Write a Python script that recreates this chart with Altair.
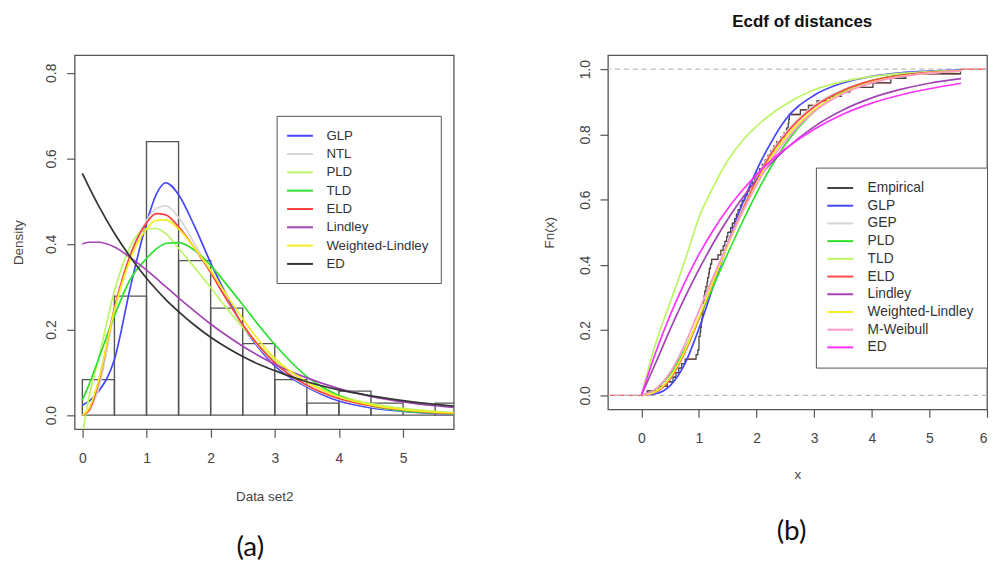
import altair as alt
import pandas as pd

FONT = "Liberation Sans"
TXT = "#444444"
LINE = "#555555"

# ---------------- Panel (a): histogram + fitted densities ----------------
BIN_LEFT = [0.0, 0.5, 1.0, 1.5, 2.0, 2.5, 3.0, 3.5, 4.0, 4.5, 5.0, 5.5]
BIN_RIGHT = [0.5, 1.0, 1.5, 2.0, 2.5, 3.0, 3.5, 4.0, 4.5, 5.0, 5.5, 6.0]
HIST_DENSITY = [0.083, 0.278, 0.639, 0.361, 0.250, 0.167, 0.083, 0.028, 0.056, 0.028, 0.0, 0.028]

X_A = [0, 0.1, 0.25, 0.5, 0.75, 1.0, 1.15, 1.3, 1.5, 1.75, 2.0, 2.25, 2.5, 2.75, 3.0, 3.5, 4.0, 4.5, 5.0, 5.5, 5.8]
A_GLP = [0.023, 0.032, 0.055, 0.13, 0.30, 0.449, 0.515, 0.543, 0.515, 0.441, 0.356, 0.28, 0.209, 0.157, 0.115, 0.066, 0.033, 0.017, 0.009, 0.004, 0.003]
A_NTL = [0.0, 0.01, 0.06, 0.24, 0.375, 0.455, 0.483, 0.489, 0.462, 0.40, 0.335, 0.27, 0.21, 0.16, 0.12, 0.068, 0.037, 0.02, 0.011, 0.006, 0.004]
A_PLD = [-0.045, 0.04, 0.13, 0.29, 0.395, 0.435, 0.436, 0.424, 0.39, 0.345, 0.298, 0.25, 0.205, 0.165, 0.128, 0.078, 0.046, 0.027, 0.016, 0.009, 0.006]
A_TLD = [0.035, 0.07, 0.13, 0.232, 0.318, 0.366, 0.388, 0.401, 0.403, 0.385, 0.35, 0.305, 0.258, 0.21, 0.165, 0.09, 0.046, 0.022, 0.01, 0.005, 0.003]
A_ELD = [0.0, 0.01, 0.075, 0.25, 0.375, 0.449, 0.471, 0.468, 0.44, 0.39, 0.333, 0.27, 0.212, 0.162, 0.122, 0.07, 0.039, 0.022, 0.012, 0.006, 0.004]
A_LINDLEY = [0.400, 0.404, 0.404, 0.393, 0.368, 0.339, 0.32, 0.30, 0.274, 0.243, 0.213, 0.186, 0.161, 0.139, 0.119, 0.087, 0.062, 0.044, 0.031, 0.022, 0.018]
A_WL = [0.0, 0.015, 0.08, 0.245, 0.365, 0.435, 0.455, 0.456, 0.435, 0.39, 0.338, 0.28, 0.225, 0.175, 0.133, 0.077, 0.043, 0.024, 0.013, 0.007, 0.005]
A_ED = [0.565, 0.534, 0.49, 0.425, 0.369, 0.32, 0.294, 0.27, 0.242, 0.21, 0.182, 0.158, 0.137, 0.119, 0.104, 0.078, 0.059, 0.045, 0.034, 0.025, 0.021]

MODELS_A = ["GLP", "NTL", "PLD", "\u00a0TLD", "ELD", "Lindley", "Weighted-Lindley", "ED"]
COLORS_A = ["#4646ff", "#d6d6d6", "#bdf565", "#2ee02e", "#ff4040", "#a244b4", "#f2ee22", "#333333"]
SERIES_A = [A_GLP, A_NTL, A_PLD, A_TLD, A_ELD, A_LINDLEY, A_WL, A_ED]

# ---------------- Panel (b): empirical cdf + fitted cdfs ----------------
SAMPLE = [0.10, 0.30, 0.45,
          0.55, 0.60, 0.65, 0.70, 0.76, 0.95, 0.98, 1.00, 1.00, 1.00,
          1.02, 1.03, 1.04, 1.05, 1.06, 1.07, 1.08, 1.08, 1.09, 1.10, 1.12, 1.14,
          1.15, 1.17, 1.18, 1.20, 1.22, 1.33, 1.38, 1.42, 1.45, 1.48, 1.50,
          1.55, 1.58, 1.62, 1.65, 1.68, 1.72, 1.75, 1.80, 1.84, 1.88, 1.93, 1.97, 2.00,
          2.05, 2.10, 2.15, 2.20, 2.25, 2.30, 2.35, 2.42, 2.48,
          2.52, 2.55, 2.56, 2.57, 2.76, 2.90,
          3.05, 3.27, 3.47, 3.62, 4.02, 4.33, 4.59, 5.54]

X_B = [0, 0.25, 0.5, 0.75, 1.0, 1.25, 1.5, 1.75, 2.0, 2.25, 2.5, 3.0, 3.5, 4.0, 4.5, 5.0, 5.55]
B_GLP = [0, 0.005, 0.03, 0.095, 0.205, 0.335, 0.465, 0.585, 0.69, 0.775, 0.845, 0.92, 0.958, 0.978, 0.989, 0.994, 0.997]
B_GEP = [0, 0.01, 0.05, 0.13, 0.235, 0.35, 0.465, 0.57, 0.665, 0.745, 0.805, 0.89, 0.937, 0.965, 0.98, 0.989, 0.994]
B_PLD = [0, 0.02, 0.065, 0.14, 0.235, 0.335, 0.435, 0.53, 0.62, 0.70, 0.77, 0.87, 0.93, 0.965, 0.983, 0.992, 0.996]
B_TLD = [0, 0.16, 0.285, 0.41, 0.545, 0.64, 0.72, 0.78, 0.825, 0.862, 0.892, 0.937, 0.962, 0.977, 0.987, 0.993, 0.996]
B_ELD = [0, 0.01, 0.05, 0.13, 0.235, 0.35, 0.465, 0.565, 0.66, 0.74, 0.80, 0.885, 0.935, 0.965, 0.981, 0.99, 0.995]
B_LINDLEY = [0, 0.10, 0.202, 0.298, 0.386, 0.467, 0.54, 0.604, 0.661, 0.711, 0.754, 0.824, 0.875, 0.912, 0.938, 0.957, 0.971]
B_WL = [0, 0.012, 0.055, 0.135, 0.24, 0.35, 0.46, 0.56, 0.65, 0.73, 0.79, 0.875, 0.928, 0.96, 0.978, 0.988, 0.994]
B_MW = [0, 0.02, 0.07, 0.155, 0.26, 0.365, 0.465, 0.56, 0.645, 0.72, 0.78, 0.87, 0.925, 0.958, 0.977, 0.988, 0.994]
B_ED = [0, 0.132, 0.246, 0.345, 0.432, 0.507, 0.572, 0.628, 0.677, 0.72, 0.756, 0.816, 0.862, 0.896, 0.921, 0.94, 0.957]

MODELS_B = ["Empirical", "GLP", "GEP", "PLD", "\u00a0TLD", "ELD", "Lindley", "Weighted-Lindley", "M-Weibull", "ED"]
COLORS_B = ["#444444", "#4646ff", "#d6d6d6", "#2ee02e", "#bdf565", "#ff4a4a", "#a244b4", "#f2ee22", "#ff99cc", "#ff33ff"]
SERIES_B = [B_GLP, B_GEP, B_PLD, B_TLD, B_ELD, B_LINDLEY, B_WL, B_MW, B_ED]

# ---------------- tables ----------------
hist_df = pd.DataFrame({"lo": BIN_LEFT, "hi": BIN_RIGHT, "dens": HIST_DENSITY, "zero": 0.0})
dens_df = pd.DataFrame([
    {"x": x, "y": y, "model": m, "k": i}
    for i, (m, s) in enumerate(zip(MODELS_A, SERIES_A))
    for x, y in zip(X_A, s)
])
cdf_df = pd.DataFrame([
    {"x": x, "y": y, "model": m, "k": i}
    for i, (m, s) in enumerate(zip(MODELS_B[1:], SERIES_B))
    for x, y in zip(X_B, s)
])

xs = sorted(SAMPLE)
n = len(xs)
step_rows = [{"x": xs[0], "y": 0.0, "model": "Empirical"}]
for i, v in enumerate(xs):
    step_rows.append({"x": v, "y": (i + 1) / n, "model": "Empirical"})
step_df = pd.DataFrame(step_rows)

uniq = sorted(set(xs))
seg_rows = [{"x": -1.0, "x2": uniq[0], "y": 0.0}]
for j, v in enumerate(uniq):
    F = sum(1 for s in xs if s <= v) / n
    nxt = uniq[j + 1] if j + 1 < len(uniq) else 7.0
    seg_rows.append({"x": v, "x2": nxt, "y": F})
seg_df = pd.DataFrame(seg_rows)
hl_df = pd.DataFrame({"y": [0.0, 1.0]})


def xaxis(title, vals, tpad, flush=False):
    return alt.Axis(values=vals, title=title, format="d", grid=False, domain=False,
                    tickSize=8, tickColor=LINE, tickWidth=1.2,
                    labelFont=FONT, labelFontSize=14, labelColor=TXT, labelPadding=14,
                    labelFlush=flush,
                    titleFont=FONT, titleFontSize=13.5, titleFontWeight="normal",
                    titleColor=TXT, titlePadding=tpad)


def yaxis(title, vals, tpad):
    return alt.Axis(values=vals, title=title, format=".1f", grid=False, domain=False,
                    tickSize=8, tickColor=LINE, tickWidth=1.2,
                    labelFont=FONT, labelFontSize=14, labelColor=TXT, labelAngle=-90,
                    labelAlign="center", labelBaseline="bottom", labelPadding=8,
                    titleFont=FONT, titleFontSize=13.5, titleFontWeight="normal",
                    titleColor=TXT, titlePadding=tpad)


xa = alt.Scale(domain=[-0.12, 5.79], nice=False, zero=False)
ya = alt.Scale(domain=[-0.033, 0.841], nice=False, zero=False)

legend_a = alt.Legend(title=None, orient="none", legendX=203, legendY=61,
                      symbolType="M-2,0H2", symbolSize=169, symbolStrokeWidth=2,
                      labelFont=FONT, labelFontSize=13.3, labelColor="#333333",
                      strokeColor=LINE, fillColor="white", padding=12.5, rowPadding=4.4,
                      symbolOffset=3.5, labelOffset=19)

bars = alt.Chart(hist_df).mark_rect(fillOpacity=0, stroke=LINE, strokeWidth=1.4, clip=True).encode(
    x=alt.X("lo:Q", scale=xa, axis=xaxis("Data set2", [0, 1, 2, 3, 4, 5], 25)),
    x2="hi:Q",
    y=alt.Y("dens:Q", scale=ya, axis=yaxis("Density", [0, 0.2, 0.4, 0.6, 0.8], 19)),
    y2="zero:Q",
)
dens_lines = alt.Chart(dens_df).mark_line(interpolate="monotone", strokeWidth=1.7, clip=True).encode(
    x=alt.X("x:Q", scale=xa),
    y=alt.Y("y:Q", scale=ya),
    color=alt.Color("model:N", scale=alt.Scale(domain=MODELS_A, range=COLORS_A), legend=legend_a),
    order="k:Q",
)
panel_a = alt.layer(bars, dens_lines).properties(
    width=381, height=376,
    title=alt.TitleParams("(a)", orient="bottom", font="Lato", fontSize=28, fontWeight="normal",
                          color="#111111", offset=31, dx=-14),
)

xb = alt.Scale(domain=[-0.58, 6.0], nice=False, zero=False)
yb = alt.Scale(domain=[-0.043, 1.043], nice=False, zero=False)
cscale_b = alt.Scale(domain=MODELS_B, range=COLORS_B)
legend_b = alt.Legend(title=None, orient="none", legendX=209, legendY=113,
                      symbolType="M-2,0H2", symbolSize=169, symbolStrokeWidth=2,
                      labelFont=FONT, labelFontSize=13.8, labelColor="#333333",
                      strokeColor=LINE, fillColor="white", padding=13, rowPadding=2.8,
                      symbolOffset=4, labelOffset=20)

segs = alt.Chart(seg_df).mark_rule(color="#ff5a5a", strokeWidth=1.4, clip=True).encode(
    x=alt.X("x:Q", scale=xb, axis=xaxis("x", [0, 1, 2, 3, 4, 5, 6], 22, flush=True)),
    x2="x2:Q",
    y=alt.Y("y:Q", scale=yb, axis=yaxis("Fn(x)", [0, 0.2, 0.4, 0.6, 0.8, 1.0], 22)),
)
hlines = alt.Chart(hl_df).mark_rule(color="#bdbdbd", strokeWidth=1.3, strokeDash=[5, 4]).encode(
    y=alt.Y("y:Q", scale=yb)
)
step = alt.Chart(step_df).mark_line(interpolate="step-after", strokeWidth=1.3, clip=True).encode(
    x=alt.X("x:Q", scale=xb),
    y=alt.Y("y:Q", scale=yb),
    color=alt.Color("model:N", scale=cscale_b, legend=legend_b),
)
cdf_lines = alt.Chart(cdf_df).mark_line(interpolate="monotone", strokeWidth=1.7, clip=True).encode(
    x=alt.X("x:Q", scale=xb),
    y=alt.Y("y:Q", scale=yb),
    color=alt.Color("model:N", scale=cscale_b, legend=legend_b),
    order="k:Q",
)
panel_b = alt.layer(segs, hlines, step, cdf_lines).properties(
    width=381, height=356,
    title=alt.TitleParams("(b)", orient="bottom", font="Lato", fontSize=28, fontWeight="normal",
                          color="#111111", offset=38, dx=-6),
)

chart = alt.hconcat(panel_a, panel_b, spacing=87).resolve_scale(color="independent").properties(
    title=alt.TitleParams("Ecdf of distances", font=FONT, fontSize=17, fontWeight="bold",
                          color="#111111", anchor="middle", dx=304, offset=24),
    padding={"left": 3, "top": 3, "right": 0, "bottom": 0},
    background="white",
).configure_view(stroke=LINE, strokeWidth=1.3)

chart.save("out.html", embed_options={"renderer": "svg", "actions": False})
